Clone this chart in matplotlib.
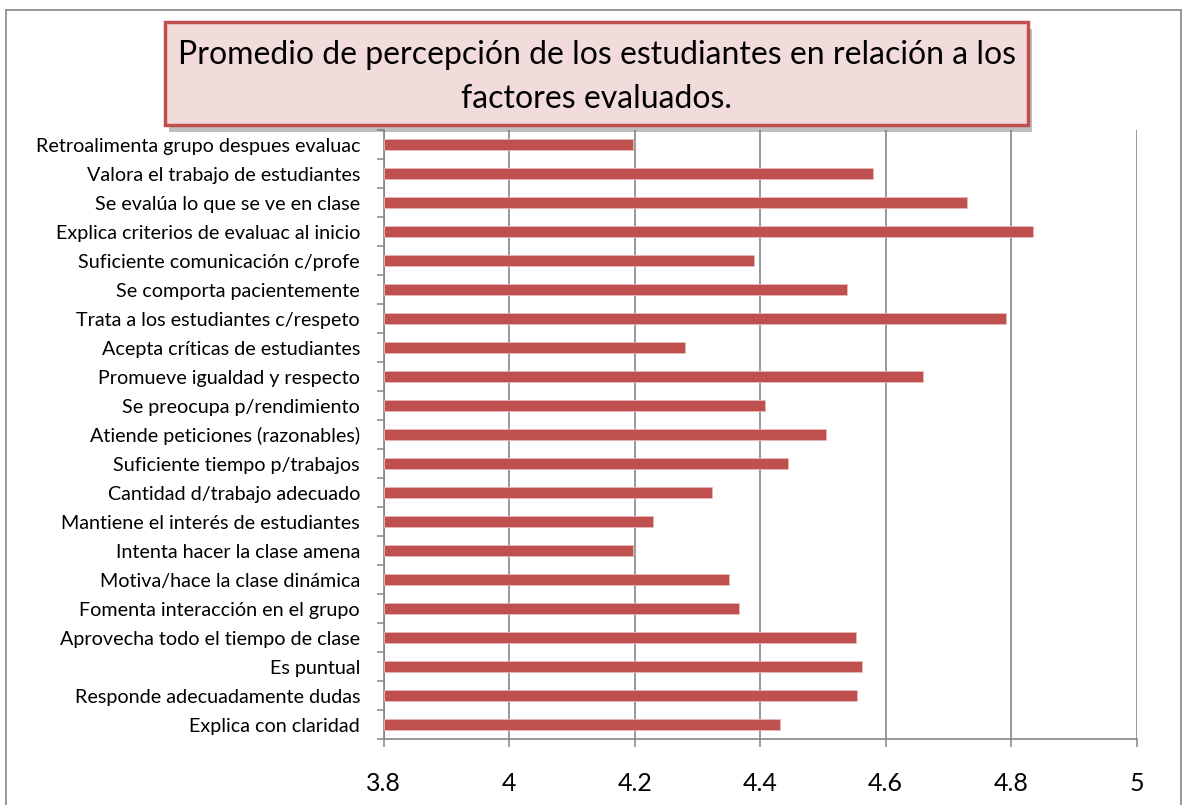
import numpy as np
import matplotlib.pyplot as plt
from matplotlib.patches import FancyBboxPatch
from matplotlib.lines import Line2D
from matplotlib import patheffects as pe

plt.rcParams['font.family'] = ['Lato', 'DejaVu Sans']

# factors, listed top to bottom as in the chart
factores = [
    "Retroalimenta grupo despues evaluac",
    "Valora el trabajo de estudiantes",
    "Se evalúa lo que se ve en clase",
    "Explica criterios de evaluac al inicio",
    "Suficiente comunicación c/profe",
    "Se comporta pacientemente",
    "Trata a los estudiantes c/respeto",
    "Acepta críticas de estudiantes",
    "Promueve igualdad y respecto",
    "Se preocupa p/rendimiento",
    "Atiende peticiones (razonables)",
    "Suficiente tiempo p/trabajos",
    "Cantidad d/trabajo adecuado",
    "Mantiene el interés de estudiantes",
    "Intenta hacer la clase amena",
    "Motiva/hace la clase dinámica",
    "Fomenta interacción en el grupo",
    "Aprovecha todo el tiempo de clase",
    "Es puntual",
    "Responde adecuadamente dudas",
    "Explica con claridad",
]
promedios = [4.198, 4.579, 4.730, 4.834, 4.390, 4.538, 4.791, 4.280, 4.660, 4.407,
             4.505, 4.444, 4.323, 4.229, 4.198, 4.350, 4.367, 4.552, 4.562, 4.555, 4.431]
xticks = [3.8, 4, 4.2, 4.4, 4.6, 4.8, 5]
xlabels = ["3.8", "4", "4.2", "4.4", "4.6", "4.8", "5"]
titulo = "Promedio de percepción de los estudiantes en relación a los\nfactores evaluados."

W, H = 1184, 805
fig = plt.figure(figsize=(W / 100, H / 100), dpi=100)
ax = fig.add_axes([383.7 / W, 1 - 739 / H, (1136.7 - 383.7) / W, (739 - 130) / H])

gris = "#868686"
y = np.arange(len(factores))
ax.barh(y, np.array(promedios) - 3.8, left=3.8, height=0.39,
        color="#C0504D", edgecolor="#E6B9B8", linewidth=0.6, zorder=3)

ax.set_xlim(3.8, 5)
ax.set_ylim(len(factores) - 0.5, -0.5)
ax.set_xticks(xticks)
ax.set_xticklabels(xlabels, fontsize=18)
ax.set_yticks(y)
ax.set_yticklabels(factores, fontsize=14.2)
ax.set_yticks(np.arange(-0.5, len(factores)), minor=True)
ax.tick_params(axis="y", which="major", length=0, pad=17)
ax.tick_params(axis="y", which="minor", length=5, width=1.1, color=gris, direction="out")
ax.tick_params(axis="x", length=6, width=1.1, color=gris, direction="out", pad=18)
ax.xaxis.grid(True, color=gris, linewidth=1.2, zorder=1)
ax.set_axisbelow(True)
for s in ("top", "right"):
    ax.spines[s].set_visible(False)
for s in ("left", "bottom"):
    ax.spines[s].set_color(gris)
    ax.spines[s].set_linewidth(1.2)

# outer chart border
fig.add_artist(Line2D([6 / W, 6 / W], [0, 1 - 10 / H], transform=fig.transFigure, color=gris, lw=1.2))
fig.add_artist(Line2D([6 / W, 1181 / W], [1 - 10 / H, 1 - 10 / H], transform=fig.transFigure, color=gris, lw=1.2))
fig.add_artist(Line2D([1181 / W, 1181 / W], [0, 1 - 10 / H], transform=fig.transFigure, color=gris, lw=1.2))

# title box with shadow
x0, x1, y0, y1 = 165 / W, 1028 / W, 1 - 125 / H, 1 - 22 / H
caja = FancyBboxPatch((x0, y0), x1 - x0, y1 - y0, boxstyle="square,pad=0",
                      transform=fig.transFigure, facecolor="#F2DCDB",
                      edgecolor="#C0504D", linewidth=2.5, zorder=5)
caja.set_path_effects([pe.SimplePatchShadow(offset=(3, -5), shadow_rgbFace="#7F7F7F", alpha=0.5),
                       pe.Normal()])
fig.add_artist(caja)
fig.text((x0 + x1) / 2, 1 - 77 / H, titulo, ha="center", va="center",
         fontsize=23, linespacing=1.55, zorder=6)

fig.savefig("out.png", dpi=100)
